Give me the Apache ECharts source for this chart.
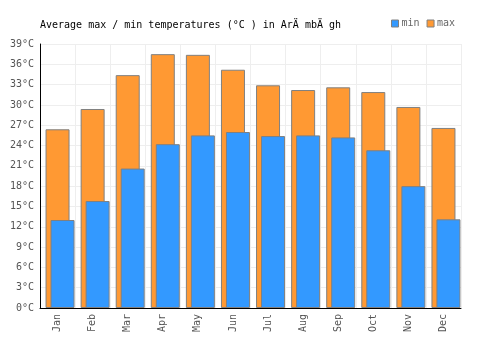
<!DOCTYPE html>
<html>
<head>
<meta charset="utf-8">
<script src="https://cdn.jsdelivr.net/npm/echarts@6/dist/echarts.min.js"></script>
<style>html,body{margin:0;padding:0;background:#fff}#c{width:500px;height:350px}</style>
</head>
<body>
<div id="c"></div>
<script>
const months = ['Jan','Feb','Mar','Apr','May','Jun','Jul','Aug','Sep','Oct','Nov','Dec'];
const minTemps = [13.0, 15.8, 20.6, 24.2, 25.5, 26.0, 25.4, 25.5, 25.2, 23.3, 18.0, 13.1];
const maxTemps = [26.4, 29.4, 34.4, 37.5, 37.4, 35.2, 32.9, 32.2, 32.6, 31.9, 29.7, 26.6];
const titleText = 'Average max / min temperatures (°C ) in ArÄ mbÄ gh';
const spacer = months.map(() => null);

const font = 'DejaVu Sans Mono';
const chart = echarts.init(document.getElementById('c'), null, {renderer: 'canvas'});
chart.setOption({
  animation: false,
  backgroundColor: '#fff',
  title: {
    text: titleText,
    left: 40, top: 20, padding: 0,
    textStyle: {fontFamily: font, fontSize: 10, fontWeight: 'normal', color: '#000'}
  },
  legend: {
    data: ['min', 'max'],
    left: 391, top: 18.5, padding: 0,
    itemWidth: 7, itemHeight: 7, itemGap: 7,
    icon: 'rect',
    textStyle: {fontFamily: font, fontSize: 10, color: '#666', padding: [0,0,0,-2]},
    itemStyle: {borderColor: '#808080', borderWidth: 1}
  },
  grid: {left: 40, right: 39, top: 44, bottom: 42, containLabel: false},
  xAxis: {
    type: 'category',
    data: months,
    axisLine: {lineStyle: {color: '#000', width: 1}},
    axisTick: {show: false},
    splitLine: {show: true, lineStyle: {color: '#eee'}},
    axisLabel: {rotate: 90, fontFamily: font, fontSize: 10, color: '#555', margin: 6}
  },
  yAxis: {
    type: 'value',
    min: 0, max: 39, interval: 3,
    axisLine: {show: true, lineStyle: {color: '#000', width: 1}},
    axisTick: {show: false},
    splitLine: {lineStyle: {color: '#eee'}},
    axisLabel: {formatter: '{value}°C', fontFamily: font, fontSize: 10, color: '#555', margin: 6}
  },
  series: [
    {name: 'spacer', type: 'bar', data: spacer, barWidth: 24, barGap: '-79.2%', itemStyle: {color: 'transparent'}, silent: true},
    {name: 'max', type: 'bar', data: maxTemps, barWidth: 24, barGap: '-79.2%',
     itemStyle: {color: '#ff9933', borderColor: '#808080', borderWidth: 1}},
    {name: 'min', type: 'bar', data: minTemps, barWidth: 24, barGap: '-79.2%',
     itemStyle: {color: '#3399ff', borderColor: '#808080', borderWidth: 1}}
  ]
});
</script>
</body>
</html>
